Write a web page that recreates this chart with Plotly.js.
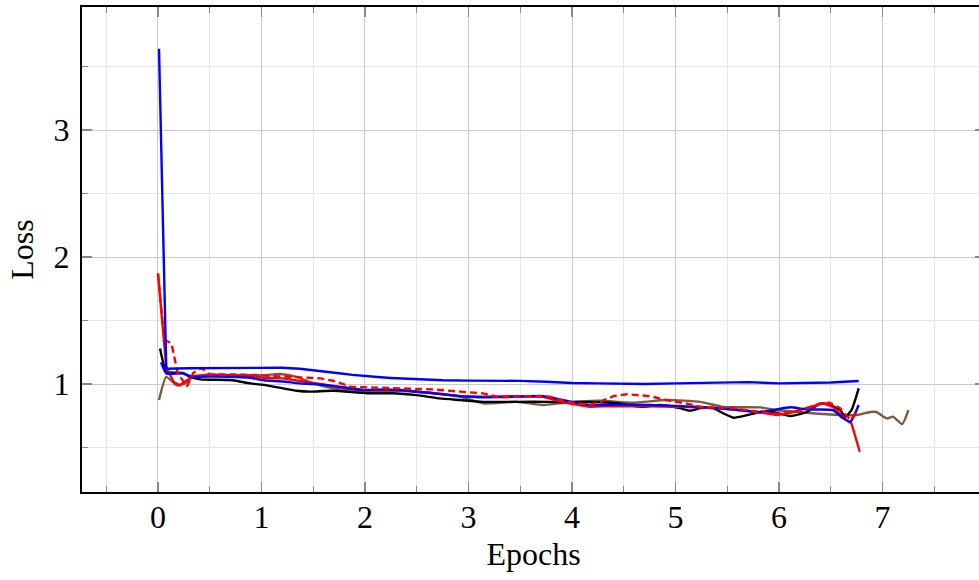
<!DOCTYPE html>
<html>
<head>
<meta charset="utf-8">
<script src="https://cdn.plot.ly/plotly-3.0.1.min.js"></script>
<style>
html, body { margin: 0; padding: 0; overflow: hidden; background: #fff; }
#chart { width: 1000px; height: 580px; }
</style>
</head>
<body>
<div id="chart"></div>
<script>
// ---- data ----
const blueTopEpochs = [0.01, 0.08, 0.3, 0.6, 1.0, 1.2, 1.37, 1.5, 1.62, 1.75, 1.88, 2.0, 2.12, 2.25, 2.5, 2.75, 3.0, 3.5, 3.75, 4.0, 4.25, 4.5, 4.7, 5.0, 5.25, 5.5, 5.7, 6.0, 6.3, 6.5, 6.77];
const blueTopLoss   = [3.64, 1.12, 1.125, 1.125, 1.13, 1.128, 1.12, 1.11, 1.098, 1.085, 1.072, 1.062, 1.055, 1.048, 1.038, 1.03, 1.027, 1.025, 1.018, 1.008, 1.005, 1.003, 1.0, 1.005, 1.009, 1.015, 1.015, 1.005, 1.01, 1.012, 1.024];

const blueLowEpochs = [0.03, 0.08, 0.24, 0.34, 0.57, 0.89, 1.02, 1.21, 1.37, 1.5, 1.69, 1.98, 2.17, 2.34, 2.66, 2.92, 3.14, 3.47, 3.72, 3.95, 4.17, 4.37, 4.75, 5.24, 5.56, 5.82, 6.11, 6.27, 6.52, 6.62, 6.69, 6.72, 6.77];
const blueLowLoss   = [1.17, 1.084, 1.084, 1.057, 1.06, 1.05, 1.03, 1.02, 1.005, 1.0, 0.984, 0.953, 0.958, 0.953, 0.927, 0.905, 0.895, 0.9, 0.905, 0.868, 0.835, 0.838, 0.835, 0.82, 0.8, 0.78, 0.817, 0.8, 0.795, 0.73, 0.703, 0.743, 0.835];

const redEpochs = [0.0, 0.08, 0.15, 0.21, 0.34, 0.5, 0.89, 1.02, 1.21, 1.34, 1.5, 1.66, 1.82, 1.98, 2.34, 2.66, 2.92, 3.14, 3.47, 3.72, 3.95, 4.17, 4.37, 4.75, 5.24, 5.56, 5.79, 5.98, 6.11, 6.27, 6.43, 6.52, 6.65, 6.7, 6.78];
const redLoss   = [1.872, 1.136, 1.018, 0.99, 1.063, 1.075, 1.065, 1.05, 1.045, 1.026, 1.008, 0.99, 0.97, 0.953, 0.95, 0.93, 0.905, 0.9, 0.905, 0.9, 0.85, 0.82, 0.827, 0.825, 0.816, 0.8, 0.78, 0.756, 0.774, 0.81, 0.848, 0.82, 0.717, 0.69, 0.467];

const redDashEpochs = [0.0, 0.06, 0.13, 0.19, 0.28, 0.34, 0.42, 0.5, 0.8, 1.1, 1.37, 1.57, 1.69, 1.86, 2.02, 2.34, 2.66, 2.92, 3.14, 3.3, 3.62, 3.79, 3.95, 4.17, 4.27, 4.4, 4.53, 4.75, 4.91, 5.1, 5.24, 5.56, 5.79, 6.0, 6.2, 6.4, 6.49, 6.59, 6.69, 6.77];
const redDashLoss   = [1.87, 1.35, 1.32, 1.087, 0.98, 1.087, 1.126, 1.075, 1.075, 1.065, 1.053, 1.045, 1.026, 0.98, 0.974, 0.966, 0.958, 0.94, 0.927, 0.895, 0.905, 0.9, 0.86, 0.835, 0.86, 0.905, 0.92, 0.905, 0.874, 0.848, 0.82, 0.81, 0.78, 0.765, 0.79, 0.848, 0.853, 0.81, 0.717, 0.8];

const blackEpochs = [0.02, 0.084, 0.24, 0.31, 0.41, 0.72, 0.89, 1.05, 1.21, 1.34, 1.47, 1.69, 2.02, 2.27, 2.5, 2.72, 2.92, 3.14, 3.47, 3.79, 3.95, 4.17, 4.37, 4.46, 4.66, 4.85, 5.04, 5.14, 5.24, 5.36, 5.46, 5.56, 5.69, 5.82, 5.94, 6.11, 6.27, 6.4, 6.49, 6.59, 6.64, 6.7, 6.77];
const blackLoss   = [1.28, 1.097, 1.087, 1.057, 1.037, 1.03, 1.005, 0.99, 0.966, 0.947, 0.94, 0.947, 0.927, 0.927, 0.913, 0.887, 0.874, 0.86, 0.86, 0.86, 0.856, 0.86, 0.853, 0.848, 0.82, 0.835, 0.81, 0.79, 0.81, 0.81, 0.77, 0.735, 0.755, 0.78, 0.78, 0.748, 0.78, 0.848, 0.835, 0.795, 0.743, 0.795, 0.966];

const brownEpochs = [0.01, 0.08, 0.18, 0.26, 0.34, 0.53, 1.02, 1.18, 1.34, 1.5, 1.69, 2.02, 2.34, 2.66, 2.92, 3.14, 3.47, 3.72, 3.95, 4.27, 4.59, 4.91, 5.24, 5.46, 5.82, 5.94, 6.27, 6.59, 6.75, 6.88, 6.94, 7.04, 7.1, 7.19, 7.25];
const brownLoss   = [0.874, 1.057, 0.99, 1.005, 1.057, 1.07, 1.07, 1.079, 1.057, 1.005, 0.966, 0.94, 0.947, 0.927, 0.9, 0.848, 0.86, 0.835, 0.856, 0.868, 0.853, 0.874, 0.86, 0.82, 0.816, 0.8, 0.774, 0.756, 0.756, 0.78, 0.78, 0.73, 0.743, 0.685, 0.795];

const xTickVals = [0, 1, 2, 3, 4, 5, 6, 7];
const yTickVals = [1, 2, 3];

// ---- drawing ----
const W = 2.4;
function line(x, y, color, dash, shape) {
  return {
    x: x, y: y, type: 'scatter', mode: 'lines', showlegend: false, hoverinfo: 'skip',
    line: { color: color, width: W, dash: dash || 'solid', shape: shape || 'spline', smoothing: 0.5 }
  };
}
const traces = [
  line(brownEpochs, brownLoss, '#7f5a36'),
  line(blackEpochs, blackLoss, '#000000'),
  line(redEpochs, redLoss, '#ff0000', 'solid', 'linear'),
  line(blueLowEpochs, blueLowLoss, '#0000ff'),
  line(redDashEpochs, redDashLoss, '#ff0000', '7px,4px', 'linear'),
  line(blueTopEpochs, blueTopLoss, '#0000ff', 'solid', 'linear')
];

const font = { family: '"Liberation Serif", "DejaVu Serif", serif', size: 32, color: '#000' };
const titleFont = { family: '"Liberation Serif", "DejaVu Serif", serif', size: 32, color: '#000' };
const layout = {
  width: 1000, height: 580,
  margin: { l: 82, r: 15, t: 7, b: 88 },
  paper_bgcolor: '#fff', plot_bgcolor: '#fff',
  font: font,
  xaxis: {
    range: [-0.734, 7.99],
    tickvals: xTickVals, ticktext: xTickVals.map(String),
    ticks: 'inside', ticklen: 10, tickwidth: 1.2, tickcolor: '#888',
    ticklabelstandoff: -4,
    showgrid: true, gridcolor: '#cbcbcb', gridwidth: 1,
    minor: { dtick: 0.5, tick0: 0, ticks: 'inside', ticklen: 6, tickcolor: '#888', showgrid: true, gridcolor: '#e6e6e6', gridwidth: 1 },
    showline: true, linecolor: '#000', linewidth: 2, mirror: 'allticks',
    zeroline: false,
    title: { text: 'Epochs', font: titleFont, standoff: 8 }
  },
  yaxis: {
    range: [0.15, 3.969],
    tickvals: yTickVals, ticktext: yTickVals.map(String),
    ticks: 'inside', ticklen: 10, tickwidth: 1.2, tickcolor: '#888',
    ticklabelstandoff: 4,
    showgrid: true, gridcolor: '#cbcbcb', gridwidth: 1,
    minor: { dtick: 0.5, tick0: 0, ticks: 'inside', ticklen: 6, tickcolor: '#888', showgrid: true, gridcolor: '#e6e6e6', gridwidth: 1 },
    showline: true, linecolor: '#000', linewidth: 2, mirror: 'allticks',
    zeroline: false,
    title: { text: 'Loss', font: titleFont, standoff: 10 }
  }
};
Plotly.newPlot('chart', traces, layout, { staticPlot: true, displayModeBar: false });
</script>
</body>
</html>
